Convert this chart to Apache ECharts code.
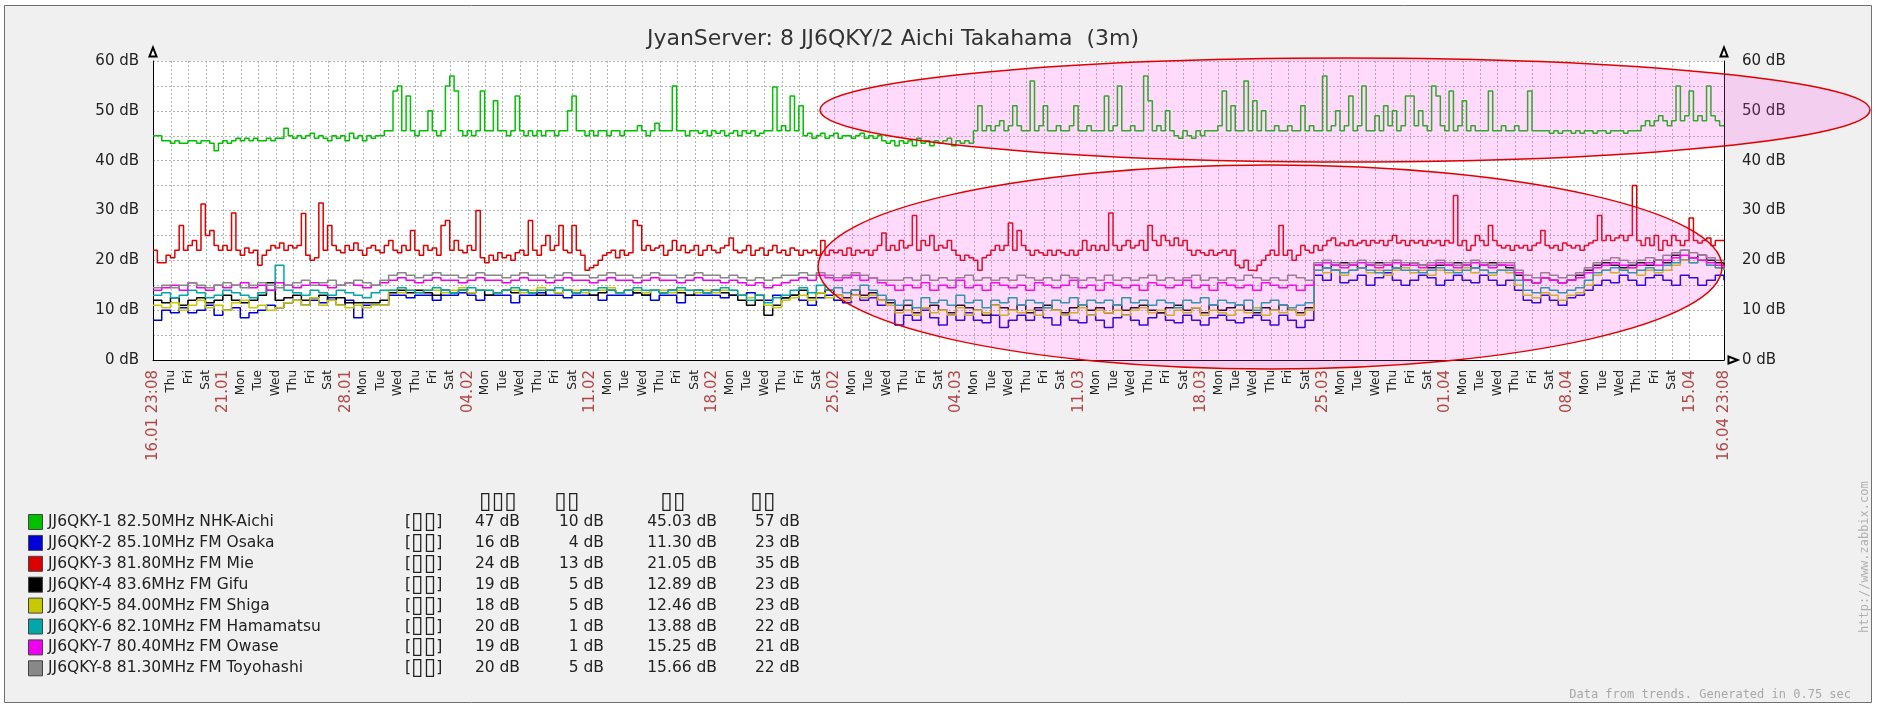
<!DOCTYPE html>
<html>
<head>
<meta charset="utf-8">
<script src="https://cdn.jsdelivr.net/npm/echarts@6/dist/echarts.min.js"></script>
<style>
html, body { margin: 0; padding: 0; background: #fff; }
#chart { width: 1877px; height: 705px; }
</style>
</head>
<body>
<div id="chart"></div>
<script>
// time range of the graph (3 months, Zabbix trends)
const tStart = new Date(2018, 0, 16, 23, 8).getTime();
const tEnd = new Date(2018, 3, 16, 23, 8).getTime();
const HOUR = 3600 * 1000;

const dayNames = ['Sun', 'Mon', 'Tue', 'Wed', 'Thu', 'Fri', 'Sat'];
const yTicks = [0, 10, 20, 30, 40, 50, 60];

const seriesNames = [
    'JJ6QKY-1 82.50MHz NHK-Aichi',
    'JJ6QKY-2 85.10MHz FM Osaka',
    'JJ6QKY-3 81.80MHz FM Mie',
    'JJ6QKY-4 83.6MHz FM Gifu',
    'JJ6QKY-5 84.00MHz FM Shiga',
    'JJ6QKY-6 82.10MHz FM Hamamatsu',
    'JJ6QKY-7 80.40MHz FM Owase',
    'JJ6QKY-8 81.30MHz FM Toyohashi'
];
const seriesColors = ['#00c000', '#0000d8', '#dd0000', '#000000', '#c8c800', '#00a8a8', '#f000f0', '#888888'];

// legend statistics columns
const statHeaders = ['▯▯▯', '▯▯', '▯▯', '▯▯'];
const lastVals = ['47 dB', '16 dB', '24 dB', '19 dB', '18 dB', '20 dB', '19 dB', '20 dB'];
const minVals = ['10 dB', '4 dB', '13 dB', '5 dB', '5 dB', '1 dB', '1 dB', '5 dB'];
const avgVals = ['45.03 dB', '11.30 dB', '21.05 dB', '12.89 dB', '12.46 dB', '13.88 dB', '15.25 dB', '15.66 dB'];
const maxVals = ['57 dB', '23 dB', '35 dB', '23 dB', '23 dB', '22 dB', '21 dB', '22 dB'];

// NHK-Aichi, one value every 6 hours from the start
const nhkAichi = [
    45,45,44,44,43.5,44,43.5,43.5,44,44,
    43.5,44,44,43.5,42,43.5,44,43.5,44,44.5,
    44,44.5,44,44.5,44,44,44.5,44,44.5,44.5,
    46.5,45,44.5,45,44.5,45,45.5,44.5,45,44.5,
    44,45,44.5,45,44,45.5,44.5,45,44,45,
    44.5,45,45,46,46,54,55,46,53,46,
    45,46,46,50,46,45,46,55,57,54,
    46,45,46,45,46,54,46,46,52,46,
    46,45,46,53,46,45,46,45,46,45,
    46,46,45,46,46,50,53,46,46,45,
    46,45,46,46,45,46,46,45,46,46,
    46,47,46,45,46,47.5,46,46,46,55,
    46,46,45,46,46,45.5,46,45,46,45.5,
    46,45,45.5,46,45,46,45.5,46,45,45.5,
    46,46,54.8,46,47,46,53,46,51,45,
    45.5,44.5,45,45.5,44.5,45,45.5,44.5,45,45,
    44.5,45,45.5,44.5,45,44.5,45,44,43.5,44,
    43,44,43.5,44,43,44.5,43.5,44,43,44,
    43.5,44,44.5,43,44,43.5,44,43.5,46,51,
    46,47,46,47,48,46,47,51,47,46,
    46,56,46,47,51,46,46,47,46,46,
    47,51,46,46,47,46,46,46,53,46,
    47,55,46,46,47,46,46,57,52,46,
    47,46,50,46,45,44.5,46,45,44.5,46,
    45,46,46,46,47,54,46,51,46,46,
    56,46,52,46,50,46,46,47,46,46,
    47,46,46,51,46,47,46,46,57,46,
    47,50,46,47,53,46,47,55,46,46,
    49,46,51,47,50,46,47,53,53,47,
    50,47,46,55,53,47,46,54,46,47,
    52,46,47,46,46,46,54,46,46,47,
    46,46,47,46,46,54,46,46,46,46,
    45.5,46,45.5,46,46,45.5,46,45.5,46,46,
    45.5,46,46,45.5,46,46,46,45.5,46,46,
    46,47,48,47,48,49,48,47,48,55,
    48,49,54,48,49,48,55,49,48,47,47
];

// FM Mie, one value every 6 hours
const fmMie = [
    22,19.5,19.5,21,20.5,22,27,22,23,24,
    22,31.3,25,26,23,22,23,22,29.5,22,
    21,22.5,21.5,22,19,21,22,23,22.5,23.5,
    22,23,22.5,23,29.4,21,20,20.5,31.5,22,
    27,23,22,21.5,23,22,23.5,22,21,22.5,
    23,22,21.5,23,24,22,21.5,23,22,26,
    22,21,23,22,22.5,21,27,28,22,24,
    22,21.5,23,22,30,20.5,19.5,21,20,21.5,
    20.5,21,20,21.5,22,21,28,22,21,23,
    25,22,23,27,22,21.5,27,22,21,18,
    18.5,19,20,21,21.5,22,20.5,22,21,21.5,
    28,27,22,23,22,22.5,23,21,22,24,
    22,23,21.5,22,23,21,22,23,22,21.5,
    22.5,23,24.5,22,21.5,22,23,21,22,22.5,
    21,22,23,21.5,22,21,22.5,22,21,22,
    21.5,22,21,24,21,22,21.5,22,21,22.5,
    21,22,21.5,22,21,22,23,25.5,22,23,
    22,24,22.5,23,29,22,24,23,25,22,
    23,22.5,24,22,21,20,21,20.5,20,18,
    20.5,21,22,23,22,23,27.5,22,26,23,
    22,21,22,21.5,21,22,21,22,21.5,21,
    22,21,22,24,22,23,22,23,22,29.5,
    23,22,23,24,22.5,23,24,22,27,24,
    23,25,24,23,24.5,23,24,22,21,22,
    21.5,21,22,21,21.5,22,21,22,19,18.5,
    20,18,17.9,19,20,21,22,21,27,21,
    22,20,21,23,22,21.5,23,22,23,24,
    24.5,23,23.5,23,24,23,23.5,24,23,24,
    23.5,24,23,24,25,23.5,24,23,24,23.5,
    24,23,24,23.5,24,23,24,23.5,33,23,
    24,22,23,25,24,23,27,24,23,22.5,
    23,22,23,22.5,23,22,23,23.5,26,23,
    22.5,23,22,23.5,23,22.5,23,22,23,23.5,
    24,29,24,25,24,24.5,25,24,25,35,
    24,23,24.5,23,25,22,24,23,25,24,
    23,24,28.5,24,23.5,24,24.5,23,24,24,24
];

// the other stations, one value every 12 hours
const fmOsaka = [
    8,10,9.5,10.5,9.5,10,11,9,10,10.5, 8.5,9.5,10,11,10.5,11.5,12,11,12,11.5, 12.5,11,12,8.5,11,11,11,
    13,13,12.5,13,13,12,13,13,13.5,13, 12,13,13,13,11.5,13,13,13.5,13,13, 12.5,13,13,13,12,13,13,13,13.5,13,
    12,13,13,11.5,13,13,13,13,12.5,13, 13,13.5,13,12,13,12.5,
    13,12,11,12.5,13,12,11.5,13,12,12.5,11,12,
    7,9,8,10,8.5,7,9,8,9.5,8, 7.5,9,6.5,8,9,8,10,8.5,7,9, 8,7.5,9,8,6.5,8.5,9,8,7,8.5,
    9.5,8,7.5,9,8,7,8.5,9,8,7.5, 8.5,9,8,7,9,8,6.5,8,
    17,16,18,15.5,16,17,15,16.5,17.5,16, 15,16,17,16.5,15,16,17,16,15.5,17, 16,15,16,14,12,11.5,13,12,11,12.5,
    13,14,15,16,15.5,17,16,15,16.5,17, 16,15,17,16.5,15,16,17,16
];
const fmGifu = [
    12,11.5,12.5,11,12,12.5,11.5,12,13,12, 11.5,12,13,15.5,12,12.5,13,12,12.5,13, 12,12.5,11.5,11.5,11.5,11.5,12,
    13.5,14,13.5,14,13.5,13,14,13.5,14,13.5, 14,13,13.5,14,13.5,14,13.5,13,14,13.5, 14,13.5,14,13,13.5,14,13.5,14,13.5,13,
    14,13.5,14,13.5,13,14,13.5,14,13.5,13, 12,11,12,9,11,12.5,
    13,14,12.5,13.5,14,13,12.5,14,13,13.5,12,11.5,
    10,11,9.5,10.5,11,10,9.5,11,10.5,10, 9,11,10.5,10,11,9.5,10.5,11,10,9.5, 10.5,11,10,10.5,9.5,11,10,10.5,11,10,
    9.5,10.5,11,10,10.5,9.5,11,10,10.5,11, 10,9.5,10.5,10,11,10,9.5,10.5,
    19,18.5,19,19.5,19,18.5,19,19.5,19,18.5, 19,19.5,19,18.5,19,19,19.5,19,18.5,19, 19.5,19,18.5,17,16,15.5,16.5,16,15.5,16,
    17,18,19,19.5,19,18.5,19,19.5,19,20, 19.5,21,20,20.5,21,20,19.5,19
];
const fmShiga = [
    11,10.5,11.5,10,11,12,10.5,11,10,11.5, 12,10.5,11,10,10.5,11.5,12,11,12.5,11, 12,11,10.5,11,10.5,11,11,
    14,13.5,14,13.5,14,14,13.5,14,14.5,13.5, 14,14,13.5,14,14,13.5,14,14.5,14,13.5, 14,14,13.5,14,14,14.5,13.5,14,14,13.5,
    14,14,13.5,14,14,13.5,14,13.5,14,14, 13,12.5,13,11,10.5,12,
    12.5,13,12,13.5,12.5,13,12,13,12.5,13,12,11,
    9.5,10,9,10.5,9.5,10,9,10.5,9,10, 9.5,11,9,10,9.5,10,9,10.5,10,9, 9.5,10.5,9,10,9.5,10,9,10,10.5,9.5,
    10,9,10,9.5,10.5,9,10,9.5,9,10, 9.5,10.5,9,10,9.5,10,9,10,
    18,17.5,18,17,18,18.5,17.5,18,17,18, 18.5,17.5,18,17,18,17.5,18,18.5,17.5,18, 17,18,17.5,15,13,12.5,13.5,13,12,13,
    13.5,15,17,18,17.5,18,18.5,17,18,17.5, 18,19,20,19.5,20,19,18.5,18
];
const fmHamamatsu = [
    13,13.5,12.5,13,14,13.5,12.5,13,14,13.5, 13,12.5,13.5,14,19,14,13.5,13,14,13.5, 13,14,13.5,13,12.5,13.5,14,
    14,14.5,14,13.5,14,14.5,14,13.5,14,14.5, 14,14,13.5,14,14.5,14,13.5,14,14,14.5, 14,13.5,14,14,14.5,14,13.5,14,14.5,14,
    14,13.5,14,14.5,14,14,13.5,14,14.5,14, 13,12,13,11.5,12.5,13,
    14,14.5,13.5,15,14,14.5,13.5,14,15,14,13,12,
    11,12,10.5,12.5,11.5,12,11,13,11.5,12, 10.5,12,11.5,12.5,11,12,11.5,10.5,12,11.5, 12.5,11,12,11.5,12,11,12.5,11.5,12,11,
    12,11.5,10.5,12,11.5,12.5,11,12,11.5,11, 12,10,11.5,12,11,10.5,11,11.5,
    18,18.5,18,17.5,18,18.5,18,17.5,18,18.5, 18,18,17.5,18,18.5,18,17.5,18,18.5,18, 17.5,18,18,16,14,13.5,14.5,14,13.5,14,
    14.5,16,17.5,18,18.5,18,17.5,18,18.5,18, 19,19.5,22,19.5,20,19,18.5,18
];
const fmOwase = [
    14,14.5,15,14,15.5,14.5,14,15,14.5,15, 15.5,14.5,15,14,15.5,15,14.5,15,15.5,15, 14.5,15,15.5,15,14.5,15,15.5,
    16,16.5,16,15.5,16,16.5,16,16,15.5,16, 16.5,16,16,15.5,16,16.5,16,16,15.5,16, 16.5,16,16,15.5,16,16.5,16,16,15.5,16,
    16.5,16,16,15.5,16,16.5,16,16,15.5,16, 15.5,15,15.5,14.5,15,15.5,
    16,16.5,16,17,16.5,16,16.5,17,16,16.5,15.5,15,
    14,15,14.5,15.5,14,15,14.5,16,14.5,15, 14,15.5,15,14.5,15,14,15.5,15,14.5,15, 16,14.5,15,14,15.5,15,14.5,15,14,15.5,
    15,14.5,15,16,14.5,15,14,15.5,15,14.5, 15,14,15.5,15,14.5,15,14,15,
    19,19.5,19,18.5,19,19.5,19,18.5,19,19.5, 19,19,18.5,19,19.5,19,18.5,19,19.5,19, 18.5,19,19,17.5,16,15.5,16.5,16,15.5,16,
    16.5,17.5,18.5,19,19.5,19,18.5,19,19.5,19, 20,20.5,21,20.5,20,19.5,19,18.5
];
const fmToyohashi = [
    14.5,15,14.5,15,15.5,15,14.5,15,15.5,15, 14.5,15,15.5,15,14.5,15,15.5,16,15,15.5, 16,15,15.5,16,15.5,15,16,
    17,17.5,17,16.5,17,17.5,17,17,16.5,17, 17.5,17,17,16.5,17,17.5,17,17,16.5,17, 17.5,17,17,16.5,17,17.5,17,17,16.5,17,
    17.5,17,17,16.5,17,17.5,17,17,16.5,17, 16.5,16,16.5,16,16.5,17,
    17,17.5,17,17.5,17,16.5,17,17.5,17,16.5,16,16,
    16,16.5,16,17,16,16.5,16,16.5,17,16, 16.5,16,16.5,16,17,16.5,16,16.5,16,17, 16.5,16,16.5,16,17,16,16.5,16,16.5,17,
    16,16.5,16,16.5,17,16,16.5,16,16.5,16, 17,16.5,16,16.5,16,17,16.5,16,
    19.5,20,19.5,19,19.5,20,19.5,19,19.5,20, 19.5,19.5,19,19.5,20,19.5,19,19.5,20,19.5, 19,19.5,19.5,18,17,16.5,17.5,17,16.5,17,
    17.5,18.5,19.5,20,20.5,20,19.5,20,20.5,20, 21,21.5,22,21.5,21,20.5,20,19.5
];

// stations in legend order with their sampling step (hours)
const stationData = [nhkAichi, fmOsaka, fmMie, fmGifu, fmShiga, fmHamamatsu, fmOwase, fmToyohashi];
const stationStep = [6, 12, 6, 12, 12, 12, 12, 12];

function toPairs(values, stepHours) {
    return values.map((v, i) => [tStart + i * stepHours * HOUR, v]);
}

// midnights between start and end get a label and a grid line
const midnights = [];
for (let d = new Date(2018, 0, 18); d.getTime() <= new Date(2018, 3, 15).getTime(); d.setDate(d.getDate() + 1)) {
    midnights.push(d.getTime());
}
const labelTimes = [tStart].concat(midnights, [tEnd]);

function pad(n) {
    return String(n).padStart(2, '0');
}

function timeLabel(v) {
    const d = new Date(v);
    const dm = pad(d.getDate()) + '.' + pad(d.getMonth() + 1);
    if (v === tStart || v === tEnd) {
        return '{r|' + dm + ' ' + pad(d.getHours()) + ':' + pad(d.getMinutes()) + '}';
    }
    if (d.getDay() === 0) return '{r|' + dm + '}';
    return '{d|' + dayNames[d.getDay()] + '}';
}

const FONT = '"DejaVu Sans", sans-serif';
const chart = echarts.init(document.getElementById('chart'));

// legend table, drawn as graphic elements
const legendItems = [];
const rowY = 522, rowH = 20.9;
const colRight = [520, 604, 717, 800];
const headerX = [498, 567, 673, 763];
const boxRich = { b: { fontSize: 23, fontFamily: FONT, fill: '#222' } };
statHeaders.forEach((h, k) => {
    legendItems.push({
        type: 'text', x: headerX[k], y: 502,
        style: { text: h, fill: '#222', fontSize: 23, fontFamily: FONT, align: 'center', verticalAlign: 'middle' }
    });
});
seriesNames.forEach((name, i) => {
    const y = rowY + i * rowH;
    legendItems.push({
        type: 'rect', shape: { x: 28.5, y: y - 7.5, width: 14, height: 15 },
        style: { fill: seriesColors[i], stroke: '#444', lineWidth: 1 }
    });
    legendItems.push({
        type: 'text', x: 48, y: y,
        style: { text: name, fill: '#222', fontSize: 15.5, fontFamily: FONT, verticalAlign: 'middle' }
    });
    legendItems.push({
        type: 'text', x: 405, y: y,
        style: { text: '[{b|▯▯}]', rich: boxRich, fill: '#222', fontSize: 15.5, fontFamily: FONT, verticalAlign: 'middle' }
    });
    [lastVals, minVals, avgVals, maxVals].forEach((col, k) => {
        legendItems.push({
            type: 'text', x: colRight[k], y: y,
            style: { text: col[i], fill: '#222', fontSize: 15.5, fontFamily: FONT, align: 'right', verticalAlign: 'middle' }
        });
    });
});

const yAxisBase = {
    type: 'value', min: yTicks[0], max: yTicks[yTicks.length - 1], interval: 10,
    axisLine: {
        show: true, lineStyle: { color: '#000', width: 1 },
        symbol: ['none', 'emptyTriangle'], symbolSize: [7, 9], symbolOffset: [0, 9]
    },
    axisTick: { show: false },
    axisLabel: { formatter: '{value} dB', fontSize: 15, fontFamily: FONT, color: '#222' },
    splitLine: { show: true, lineStyle: { color: '#b4b4b4', type: [2, 2], width: 1 } },
    minorTick: { show: false, splitNumber: 2 },
    minorSplitLine: { show: true, lineStyle: { color: '#b4b4b4', type: [2, 2], width: 1 } }
};

const option = {
    backgroundColor: '#ffffff',
    animation: false,
    grid: { left: 153, right: 153, top: 61, bottom: 345, show: true, backgroundColor: '#ffffff', borderWidth: 0 },
    xAxis: {
        type: 'value', min: tStart, max: tEnd,
        axisLine: {
            show: true, onZero: false, lineStyle: { color: '#000', width: 1 },
            symbol: ['none', 'emptyTriangle'], symbolSize: [7, 9], symbolOffset: [0, 9]
        },
        axisTick: { show: false, customValues: midnights },
        axisLabel: {
            customValues: labelTimes, rotate: 90, margin: 10, formatter: timeLabel,
            rich: {
                r: { color: '#b04848', fontSize: 15, fontFamily: FONT },
                d: { color: '#222', fontSize: 12, fontFamily: FONT }
            }
        },
        splitLine: { show: true, lineStyle: { color: '#b4b4b4', type: [2, 2], width: 1 } }
    },
    yAxis: [
        Object.assign({}, yAxisBase, { position: 'left', axisLabel: Object.assign({}, yAxisBase.axisLabel, { margin: 14 }) }),
        Object.assign({}, yAxisBase, { position: 'right', splitLine: { show: false }, minorSplitLine: { show: false },
            axisLabel: Object.assign({}, yAxisBase.axisLabel, { margin: 18 }) })
    ],
    series: stationData.map((vals, i) => ({
        name: seriesNames[i],
        type: 'line',
        step: 'end',
        showSymbol: false,
        symbol: 'none',
        silent: true,
        z: 2 + i,
        lineStyle: { color: seriesColors[i], width: 1.5 },
        data: toPairs(vals, stationStep[i])
    })),
    graphic: [
        {
            type: 'rect', z: -10, silent: true,
            shape: { x: 4.5, y: 5.5, width: 1867, height: 697 },
            style: { fill: '#f0f0f0', stroke: '#707070', lineWidth: 1 }
        },
        {
            type: 'text', x: 893, y: 39, z: 10,
            style: { text: 'JyanServer: 8 JJ6QKY/2 Aichi Takahama  (3m)', fill: '#333', fontSize: 22, fontFamily: FONT, align: 'center', verticalAlign: 'middle' }
        },
        {
            type: 'text', x: 1851, y: 695, z: 10,
            style: { text: 'Data from trends. Generated in 0.75 sec', fill: '#a8a8a8', fontSize: 12, fontFamily: '"DejaVu Sans Mono", monospace', align: 'right', verticalAlign: 'middle' }
        },
        {
            type: 'text', x: 1865, y: 633, rotation: Math.PI / 2, z: 10,
            style: { text: 'http://www.zabbix.com', fill: '#b0b0b0', fontSize: 12, fontFamily: '"DejaVu Sans Mono", monospace', align: 'left', verticalAlign: 'middle' }
        },
        // hand-drawn highlight ellipses
        {
            type: 'ellipse', z: 100, silent: true,
            shape: { cx: 1345, cy: 110, rx: 525, ry: 52 },
            style: { fill: 'rgba(255,70,230,0.2)', stroke: '#e00000', lineWidth: 1.5 }
        },
        {
            type: 'ellipse', z: 100, silent: true,
            shape: { cx: 1270, cy: 267, rx: 452, ry: 102 },
            style: { fill: 'rgba(255,70,230,0.2)', stroke: '#e00000', lineWidth: 1.5 }
        }
    ].concat(legendItems)
};

chart.setOption(option);
</script>
</body>
</html>
